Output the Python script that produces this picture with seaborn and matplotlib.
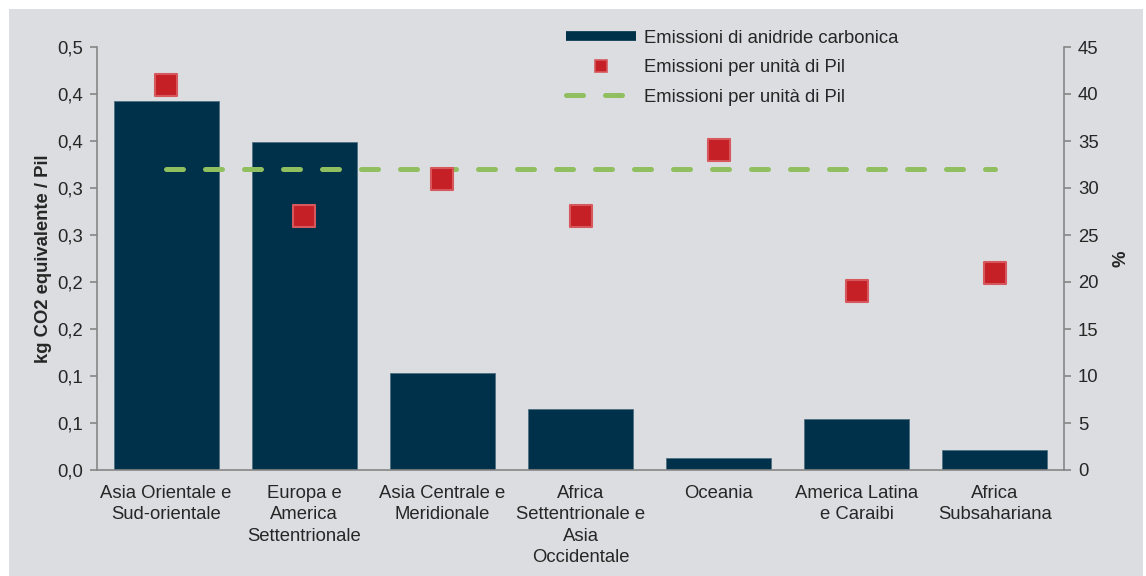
import numpy as np
import pandas as pd
import seaborn as sns
import matplotlib.pyplot as plt
from matplotlib.patches import Rectangle
from matplotlib.lines import Line2D
from matplotlib.ticker import FuncFormatter

# data
regioni = [
    "Asia Orientale e\nSud-orientale",
    "Europa e\nAmerica\nSettentrionale",
    "Asia Centrale e\nMeridionale",
    "Africa\nSettentrionale e\nAsia\nOccidentale",
    "Oceania",
    "America Latina\ne Caraibi",
    "Africa\nSubsahariana",
]
emissioni_co2 = [0.393, 0.349, 0.103, 0.065, 0.013, 0.054, 0.021]   # kg CO2 eq / Pil
emissioni_pil = [41, 27, 31, 27, 34, 19, 21]                        # %
media_pil = [32, 32, 32, 32, 32, 32, 32]                            # %

sns.set_theme(style="white")
plt.rcParams["font.family"] = ["Liberation Sans", "DejaVu Sans"]

bg = "#dcdde0"
navy = "#00314a"
red = "#c42026"
green = "#8fbf5e"
grey = "#868686"
txt = "#262626"
fs = 13.3

fig = plt.figure(figsize=(11.46, 5.76), dpi=100)
fig.patch.set_facecolor("white")
fig.add_artist(Rectangle((9 / 1146, 0), 1134 / 1146, 567 / 576,
                         transform=fig.transFigure, facecolor=bg,
                         edgecolor="none", zorder=-10))

ax = fig.add_axes([97 / 1146, 106 / 576, 967 / 1146, 423 / 576])
ax.set_facecolor("none")

df = pd.DataFrame({"regione": regioni, "co2": emissioni_co2})
sns.barplot(data=df, x="regione", y="co2", color=navy, width=0.76,
            saturation=1, edgecolor="#4f6f82", linewidth=0.6, ax=ax)

ax.set_xlim(-0.5, 6.5)
ax.set_ylim(0, 0.45)
ax.set_yticks(np.arange(0, 0.4501, 0.05))


def fmt_left(v, pos):
    r = np.floor(v * 10 + 0.5 + 1e-9) / 10
    return f"{r:.1f}".replace(".", ",")


ax.yaxis.set_major_formatter(FuncFormatter(fmt_left))
ax.set_xticks(np.arange(-0.5, 7, 1))
ax.set_xticklabels([""] * 8)
ax.set_xticks(np.arange(7), minor=True)
ax.set_xticklabels(regioni, minor=True, fontsize=fs, color=txt, linespacing=1.32)
ax.tick_params(axis="x", which="major", length=5, width=1.2, color=grey, direction="out")
ax.tick_params(axis="x", which="minor", length=0, pad=11)
ax.tick_params(axis="y", length=5, width=1.2, color=grey, direction="out",
               labelsize=fs, labelcolor=txt, left=True, pad=5)
ax.set_xlabel("")
ax.set_ylabel("kg CO2 equivalente / Pil", fontsize=fs, fontweight="bold",
              color=txt, labelpad=4)

for s in ["top", "right"]:
    ax.spines[s].set_visible(False)
for s in ["left", "bottom"]:
    ax.spines[s].set_color(grey)
    ax.spines[s].set_linewidth(1.2)

ax2 = ax.twinx()
pos = np.arange(len(regioni))
sns.lineplot(x=pos, y=media_pil, color=green, linewidth=3.6, ax=ax2)
ax2.lines[-1].set_dashes((3.4, 4.4))
ax2.lines[-1].set_dash_capstyle("round")
sns.scatterplot(x=pos, y=emissioni_pil, marker="s", s=230, color=red,
                edgecolor="#d6585d", linewidth=1.5, ax=ax2, zorder=5)
ax2.set_ylim(0, 45)
ax2.set_yticks(np.arange(0, 46, 5))
ax2.tick_params(axis="y", length=5, width=1.2, color=grey, direction="out",
                labelsize=fs, labelcolor=txt, right=True, pad=5)
ax2.set_ylabel("%", fontsize=fs, fontweight="bold", color=txt, labelpad=10)
for s in ["top", "left", "bottom"]:
    ax2.spines[s].set_visible(False)
ax2.spines["right"].set_color(grey)
ax2.spines["right"].set_linewidth(1.2)

handles = [
    Line2D([], [], color=navy, linewidth=7, solid_capstyle="butt"),
    Line2D([], [], color=red, marker="s", markersize=9, linestyle="none",
           markeredgecolor="#d6585d", markeredgewidth=1.2),
    Line2D([], [], color=green, linewidth=3.6, dashes=(3.4, 4.4),
           dash_capstyle="round"),
]
labels = ["Emissioni di anidride carbonica", "Emissioni per unità di Pil",
          "Emissioni per unità di Pil"]
fig.legend(handles, labels, loc="upper left", bbox_to_anchor=(549 / 1146, 1 - 13 / 576),
           frameon=False, fontsize=fs, handlelength=3.8, handletextpad=0.45,
           labelspacing=0.68, labelcolor=txt)

fig.savefig("out.png", dpi=100, facecolor=fig.get_facecolor())
